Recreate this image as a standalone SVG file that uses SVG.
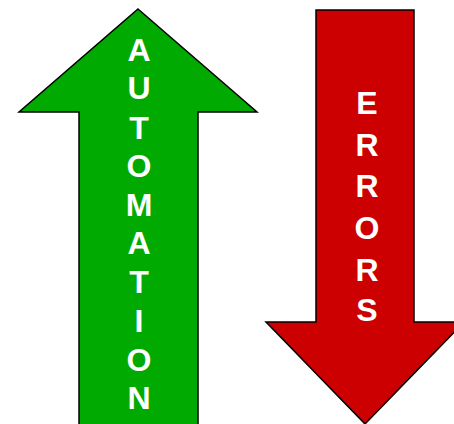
<svg xmlns="http://www.w3.org/2000/svg" width="454" height="424" viewBox="0 0 454 424">
  <style>
    .arrow { stroke: #000; stroke-width: 1.5; stroke-linejoin: miter; }
    .up { fill: #00AA00; }
    .down { fill: #CC0000; }
    .lbl { font-family: "Liberation Sans", Arial, sans-serif; font-size: 32px; font-weight: bold; fill: #fff; text-anchor: middle; }
  </style>
  <rect width="454" height="424" fill="#fff"/>
  <g id="automation">
    <polygon class="arrow up" points="138,9 257,112 198,112 198,426 79,426 79,112 19,112"/>
    <text class="lbl" x="139" y="61">A</text>
    <text class="lbl" x="139" y="99">U</text>
    <text class="lbl" x="139" y="139">T</text>
    <text class="lbl" x="139" y="177">O</text>
    <text class="lbl" x="139" y="216">M</text>
    <text class="lbl" x="139" y="254">A</text>
    <text class="lbl" x="139" y="293">T</text>
    <text class="lbl" x="139" y="332">I</text>
    <text class="lbl" x="139" y="371">O</text>
    <text class="lbl" x="139" y="409">N</text>
  </g>
  <g id="errors">
    <polygon class="arrow down" points="316,10 414,10 414,322 464,322 365,424 266,322 316,322"/>
    <text class="lbl" x="367" y="114">E</text>
    <text class="lbl" x="367" y="156">R</text>
    <text class="lbl" x="367" y="197">R</text>
    <text class="lbl" x="367" y="239">O</text>
    <text class="lbl" x="367" y="281">R</text>
    <text class="lbl" x="367" y="321">S</text>
  </g>
</svg>
